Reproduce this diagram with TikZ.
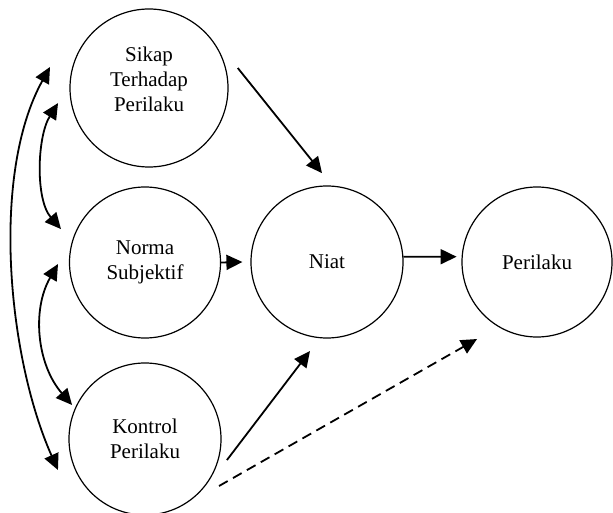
\documentclass[tikz,border=0pt]{standalone}
\usepackage{fontspec}
\setmainfont{Liberation Serif}
\usepackage{tikz}
\usetikzlibrary{arrows.meta,calc}

\begin{document}
\begin{tikzpicture}[x=1pt,y=1pt,
  konstruk/.style={draw, circle, line width=1.2pt, inner sep=0pt, align=center, font=\fontsize{21}{25}\selectfont},
  panah/.style={line width=1.8pt, -{Triangle[length=16pt,width=15pt]}},
  panahdua/.style={line width=1.8pt, {Triangle[length=16pt,width=15pt]}-{Triangle[length=16pt,width=15pt]}}]

\useasboundingbox (0,0) rectangle (613,512);

\node[konstruk, minimum size=158pt] (sikap) at (149,424) {Sikap\\Terhadap\\Perilaku\\[-8pt]\mbox{}};
\node[konstruk, minimum size=151pt] (norma) at (145,249.5) {Norma\\Subjektif};
\node[konstruk, minimum size=152pt] (kontrol) at (145,73) {Kontrol\\Perilaku};
\node[konstruk, minimum size=152pt] (niat) at (327,250) {Niat};
\node[konstruk, minimum size=150pt] (perilaku) at (537,250) {Perilaku};

\draw[panah] ($(sikap.center)+(12.7:91)$) -- ($(niat.center)+(93.2:89)$);
\draw[panah] (norma.east) -- ([xshift=-8pt]niat.west);
\draw[panah] (niat.4) -- ([xshift=-5pt]perilaku.176);
\draw[panah] ($(kontrol.center)+(345.6:84.6)$) -- ($(niat.center)+(259.2:90.6)$);
\draw[panah, dash pattern=on 10pt off 6pt] ($(kontrol.center)+(327.6:87.7)$) -- ($(perilaku.center)+(232.1:97.6)$);

\draw[panahdua] ($(sikap.center)+(189.4:92.2)$) to[out=238,in=131,looseness=0.8] ($(norma.center)+(158.3:90.4)$);
\draw[panahdua] ($(norma.center)+(181:87)$) to[out=240,in=131,looseness=0.96] ($(kontrol.center)+(155:80.5)$);
\draw[panahdua] ($(sikap.center)+(168:101.2)$) to[out=241,in=114,looseness=0.78] ($(kontrol.center)+(199.6:92.4)$);

\end{tikzpicture}
\end{document}
